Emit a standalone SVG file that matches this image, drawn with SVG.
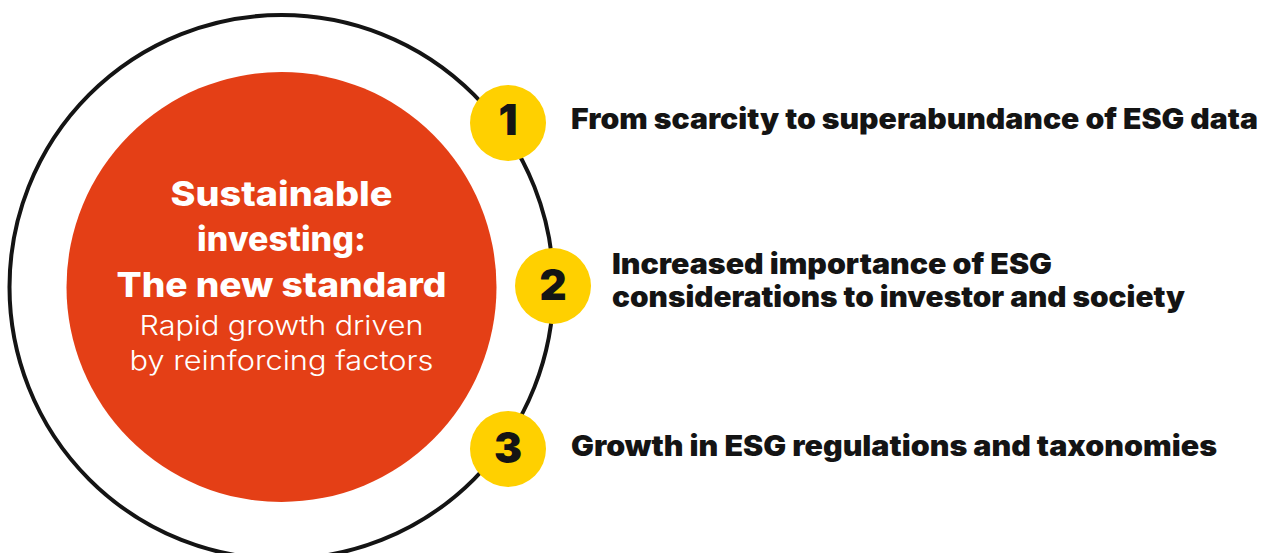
<svg xmlns="http://www.w3.org/2000/svg" width="1273" height="553" viewBox="0 0 1273 553">
  <style>
    .ring { fill: none; stroke: #141414; stroke-width: 4; }
    .core { fill: #E43F16; }
    .badge { fill: #FFD000; }
    .num { font-family: Inter, "Liberation Sans", sans-serif; font-weight: 900; font-size: 42px; fill: #141414; text-anchor: middle; }
    .lbl { font-family: Inter, "Liberation Sans", sans-serif; font-weight: 900; font-size: 28px; fill: #141414; }
    .title { font-family: Inter, "Liberation Sans", sans-serif; font-weight: 800; font-size: 34px; fill: #ffffff; text-anchor: middle; }
    .sub { font-family: Inter, "Liberation Sans", sans-serif; font-weight: 300; font-size: 27px; fill: #ffffff; text-anchor: middle; }
  </style>
  <rect width="1273" height="553" fill="#ffffff"/>
  <g id="connectors">
    <circle class="ring" cx="281.5" cy="287" r="272"/>
  </g>
  <g id="core">
    <circle class="core" cx="281.5" cy="287" r="215"/>
    <text class="title" x="281.5" y="206" textLength="222" lengthAdjust="spacingAndGlyphs">Sustainable</text>
    <text class="title" x="281.5" y="251">investing:</text>
    <text class="title" x="281.5" y="297" textLength="330" lengthAdjust="spacingAndGlyphs">The new standard</text>
    <text class="sub" x="281.5" y="335" textLength="284" lengthAdjust="spacingAndGlyphs">Rapid growth driven</text>
    <text class="sub" x="281.5" y="370" textLength="304" lengthAdjust="spacingAndGlyphs">by reinforcing factors</text>
  </g>
  <g id="factor1">
    <circle class="badge" cx="508" cy="123" r="38"/>
    <text class="num" x="508" y="135">1</text>
    <text class="lbl" x="571" y="129" textLength="687" lengthAdjust="spacingAndGlyphs">From scarcity to superabundance of ESG data</text>
  </g>
  <g id="factor2">
    <circle class="badge" cx="553" cy="286" r="38"/>
    <text class="num" x="553" y="300">2</text>
    <text class="lbl" x="612" y="274" textLength="440" lengthAdjust="spacingAndGlyphs">Increased importance of ESG</text>
    <text class="lbl" x="612" y="307" textLength="573" lengthAdjust="spacingAndGlyphs">considerations to investor and society</text>
  </g>
  <g id="factor3">
    <circle class="badge" cx="508" cy="449" r="38"/>
    <text class="num" x="508" y="463">3</text>
    <text class="lbl" x="571" y="456" textLength="646" lengthAdjust="spacingAndGlyphs">Growth in ESG regulations and taxonomies</text>
  </g>
</svg>
